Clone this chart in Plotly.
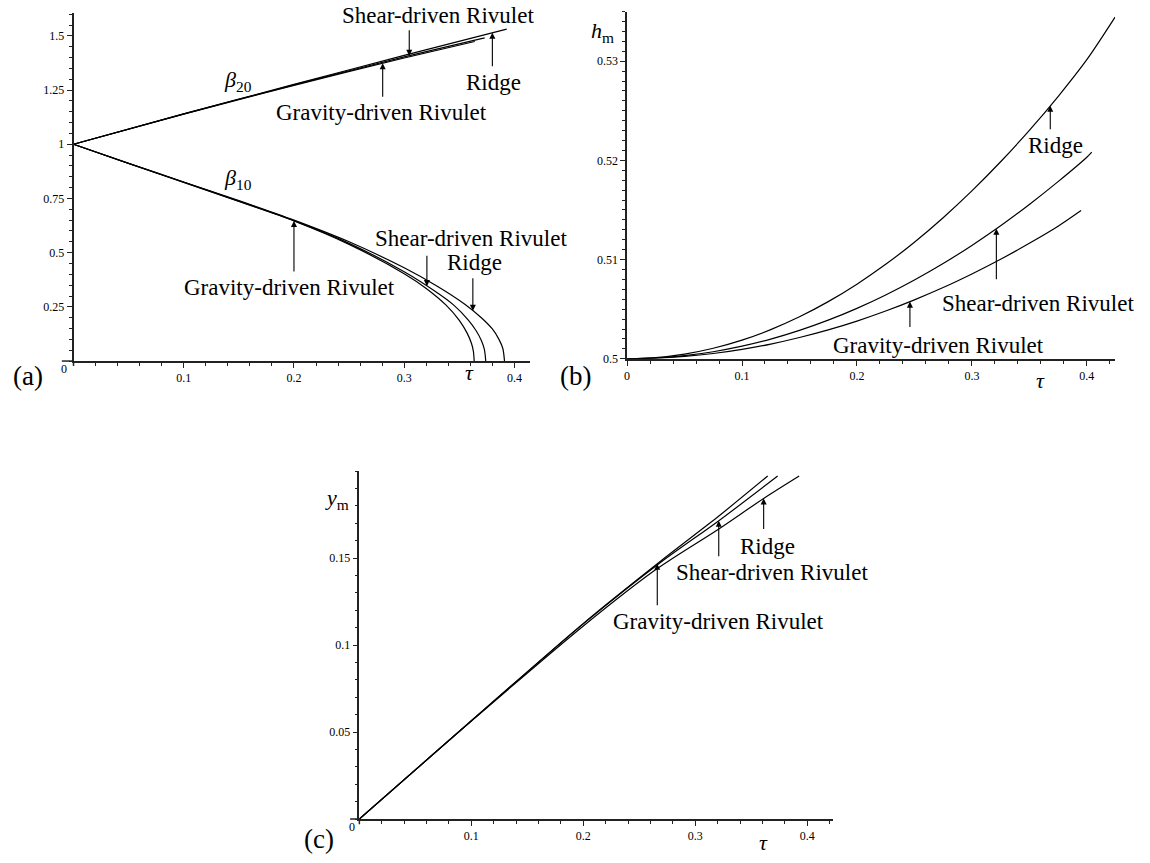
import numpy as np
import plotly.graph_objects as go

W, H = 1150, 863

# ---------------- data ----------------
# panel (a): beta_10 (lower branch)
tau_b10_ridge = [0, 0.05, 0.1, 0.15, 0.2, 0.25, 0.3, 0.33, 0.355, 0.37, 0.38, 0.386, 0.3895, 0.391]
b10_ridge = [1, 0.912, 0.826, 0.740, 0.650, 0.550, 0.430, 0.345, 0.262, 0.200, 0.148, 0.100, 0.058, 0.0]
tau_b10_shear = [0, 0.05, 0.1, 0.15, 0.2, 0.25, 0.3, 0.33, 0.345, 0.358, 0.365, 0.37, 0.3727, 0.374]
b10_shear = [1, 0.912, 0.825, 0.738, 0.648, 0.543, 0.412, 0.315, 0.258, 0.190, 0.142, 0.095, 0.055, 0.0]
tau_b10_grav = [0, 0.05, 0.1, 0.15, 0.2, 0.25, 0.3, 0.32, 0.338, 0.35, 0.357, 0.361, 0.3628, 0.3635]
b10_grav = [1, 0.911, 0.824, 0.736, 0.646, 0.538, 0.403, 0.335, 0.258, 0.188, 0.130, 0.082, 0.044, 0.0]

# panel (a): beta_20 (upper branch)
tau_b20_ridge = [0, 0.1, 0.2, 0.3, 0.393]
b20_ridge = [1, 1.14, 1.276, 1.41, 1.531]
tau_b20_shear = [0, 0.1, 0.2, 0.3, 0.373]
b20_shear = [1, 1.14, 1.274, 1.403, 1.491]
tau_b20_grav = [0, 0.1, 0.2, 0.3, 0.364]
b20_grav = [1, 1.139, 1.272, 1.398, 1.474]

# panel (b): h_m
tau_h_ridge = [0, 0.025, 0.05, 0.075, 0.1, 0.125, 0.15, 0.175, 0.2, 0.225, 0.25, 0.275, 0.3,
               0.325, 0.35, 0.375, 0.4, 0.4246]
h_ridge = [0.5, 0.50012, 0.50047, 0.50106, 0.50188, 0.50294, 0.50423, 0.50576, 0.50752, 0.50952,
           0.51175, 0.51422, 0.51692, 0.51986, 0.52303, 0.52644, 0.53015, 0.53444]
tau_h_shear = [0, 0.025, 0.05, 0.075, 0.1, 0.125, 0.15, 0.175, 0.2, 0.225, 0.25, 0.275, 0.3,
               0.325, 0.35, 0.375, 0.4, 0.4043]
h_shear = [0.5, 0.50008, 0.50032, 0.50071, 0.50127, 0.50198, 0.50286, 0.50389, 0.50508, 0.50643,
           0.50794, 0.5096, 0.51143, 0.51341, 0.51556, 0.51786, 0.52032, 0.52084]
tau_h_grav = [0, 0.025, 0.05, 0.075, 0.1, 0.125, 0.15, 0.175, 0.2, 0.225, 0.25, 0.275, 0.3,
              0.325, 0.35, 0.375, 0.395]
h_grav = [0.5, 0.50006, 0.50024, 0.50053, 0.50095, 0.50148, 0.50214, 0.50291, 0.5038, 0.50481,
          0.50594, 0.50718, 0.50855, 0.51003, 0.51164, 0.51336, 0.51494]

# panel (c): y_m
tau_y_ridge = [0, 0.1, 0.2, 0.266, 0.321, 0.361, 0.3927]
y_ridge = [0, 0.0563, 0.111, 0.144, 0.1668, 0.1843, 0.1972]
tau_y_shear = [0, 0.1, 0.2, 0.27, 0.321, 0.3735]
y_shear = [0, 0.0565, 0.1122, 0.148, 0.1715, 0.1972]
tau_y_grav = [0, 0.1, 0.2, 0.27, 0.321, 0.3646]
y_grav = [0, 0.0565, 0.1125, 0.1488, 0.1742, 0.1972]

# tick labels
a_yticks = [0.25, 0.5, 0.75, 1, 1.25, 1.5]
a_yticktext = ["0.25", "0.5", "0.75", "1", "1.25", "1.5"]
b_yticks = [0.5, 0.51, 0.52, 0.53]
b_yticktext = ["0.5", "0.51", "0.52", "0.53"]
c_yticks = [0.05, 0.1, 0.15]
c_yticktext = ["0.05", "0.1", "0.15"]
x_ticks_nozero = [0.1, 0.2, 0.3, 0.4]
x_ticktext_nozero = ["0.1", "0.2", "0.3", "0.4"]
b_xticks = [0, 0.1, 0.2, 0.3, 0.4]
b_xticktext = ["0", "0.1", "0.2", "0.3", "0.4"]

SERIF = "Liberation Serif"
AX = "#222222"
LABEL = 23


def px(x, y):
    return x / W, 1 - y / H


fig = go.Figure()

line = dict(color="black", width=1.2)


def add(x, y, xa, ya):
    fig.add_trace(go.Scatter(x=x, y=y, mode="lines", line=dict(line, shape="spline", smoothing=0.8),
                             xaxis=xa, yaxis=ya, showlegend=False, hoverinfo="skip"))


for t, v in [(tau_b10_ridge, b10_ridge), (tau_b10_shear, b10_shear), (tau_b10_grav, b10_grav),
             (tau_b20_ridge, b20_ridge), (tau_b20_shear, b20_shear), (tau_b20_grav, b20_grav)]:
    add(t, v, "x", "y")
for t, v in [(tau_h_ridge, h_ridge), (tau_h_shear, h_shear), (tau_h_grav, h_grav)]:
    add(t, v, "x2", "y2")
for t, v in [(tau_y_ridge, y_ridge), (tau_y_shear, y_shear), (tau_y_grav, y_grav)]:
    add(t, v, "x3", "y3")


def axis(domain, rng, anchor, tickvals, ticktext, minor_dtick, minor_tick0=0):
    return dict(domain=domain, range=rng, anchor=anchor, showline=True, linecolor=AX, linewidth=1.5,
                ticks="outside", ticklen=5, tickwidth=1, tickcolor=AX, showgrid=False, zeroline=False,
                tickmode="array", tickvals=tickvals, ticktext=ticktext,
                tickfont=dict(family=SERIF, size=12, color="black"),
                minor=dict(ticks="outside", ticklen=3, tickwidth=1, tickcolor=AX, dtick=minor_dtick,
                           tick0=minor_tick0, showgrid=False),
                fixedrange=True)


fig.update_layout(
    xaxis=axis([70.7 / W, 528 / W], [0, 0.4138], "y", x_ticks_nozero, x_ticktext_nozero, 0.02),
    yaxis=axis([1 - 364 / H, 1 - 13 / H], [0, 1.606], "x", a_yticks, a_yticktext, 0.05),
    xaxis2=axis([625.7 / W, 1115 / W], [0, 0.4246], "y2", b_xticks, b_xticktext, 0.02),
    yaxis2=axis([1 - 361.7 / H, 1 - 11.7 / H], [0.5, 0.535], "x2", b_yticks, b_yticktext, 0.001, 0.5),
    xaxis3=axis([357.3 / W, 831.7 / W], [0, 0.4225], "y3", x_ticks_nozero, x_ticktext_nozero, 0.02),
    yaxis3=axis([1 - 825.7 / H, 1 - 475 / H], [0, 0.2], "x3", c_yticks, c_yticktext, 0.01),
)

# axis stubs past the origin
shapes = []
for (x0, y0, x1, y1) in [(59, 364, 70.7, 364), (70.7, 364, 70.7, 369),
                         (348, 825.7, 357.3, 825.7), (357.3, 825.7, 357.3, 831)]:
    a0 = px(x0, y0)
    a1 = px(x1, y1)
    shapes.append(dict(type="line", xref="paper", yref="paper", x0=a0[0], y0=a0[1], x1=a1[0], y1=a1[1],
                       line=dict(color=AX, width=1.5)))
fig.update_layout(shapes=shapes)

ann = []


def text(s, x, y, size=LABEL, xanchor="center"):
    p = px(x, y)
    ann.append(dict(text=s, x=p[0], y=p[1], xref="paper", yref="paper", showarrow=False,
                    xanchor=xanchor, yanchor="middle", font=dict(family=SERIF, size=size, color="black")))


def arrow(xa, ya, t, tt, vv, ay):
    yv = float(np.interp(t, tt, vv))
    ann.append(dict(text="", x=t, y=yv, xref=xa, yref=ya, ax=0, ay=ay, axref="pixel", ayref="pixel",
                    showarrow=True, arrowhead=2, arrowsize=1.1, arrowwidth=1.1, arrowcolor="black",
                    standoff=0))


# panel (a)
text("(a)", 25, 379, 27)
text("0", 61, 372, 12)
text("<i>τ</i>", 468, 376, 22)
text("<i>β</i><sub>20</sub>", 236, 82, 22)
text("<i>β</i><sub>10</sub>", 236, 180, 22)
text("Shear-driven Rivulet", 436, 16)
text("Ridge", 492, 83)
text("Gravity-driven Rivulet", 379, 113)
text("Shear-driven Rivulet", 469, 240)
text("Ridge", 473, 265)
text("Gravity-driven Rivulet", 287, 290)
arrow("x", "y", 0.3046, tau_b20_shear, b20_shear, -27)
arrow("x", "y", 0.380, tau_b20_ridge, b20_ridge, 35)
arrow("x", "y", 0.2805, tau_b20_grav, b20_grav, 35)
arrow("x", "y", 0.3206, tau_b10_shear, b10_shear, -32)
arrow("x", "y", 0.3623, tau_b10_ridge, b10_ridge, -34)
arrow("x", "y", 0.200, tau_b10_grav, b10_grav, 52)

# panel (b)
text("(b)", 574, 379, 27)
text("<i>h</i><sub>m</sub>", 601, 32, 22)
text("<i>τ</i>", 1040, 384, 22)
text("Ridge", 1055, 147)
text("Shear-driven Rivulet", 1038, 306)
text("Gravity-driven Rivulet", 938, 348)
arrow("x2", "y2", 0.3682, tau_h_ridge, h_ridge, 25)
arrow("x2", "y2", 0.3213, tau_h_shear, h_shear, 52)
arrow("x2", "y2", 0.2461, tau_h_grav, h_grav, 27)

# panel (c)
text("(c)", 317, 846, 27)
text("0", 350, 834, 12)
text("<i>y</i><sub>m</sub>", 335, 503, 22)
text("<i>τ</i>", 762, 849, 22)
text("Ridge", 767, 551)
text("Shear-driven Rivulet", 771, 577)
text("Gravity-driven Rivulet", 717, 627)
arrow("x3", "y3", 0.361, tau_y_ridge, y_ridge, 32)
arrow("x3", "y3", 0.3209, tau_y_shear, y_shear, 37)
arrow("x3", "y3", 0.266, tau_y_grav, y_grav, 43)

fig.update_layout(annotations=ann, width=W, height=H, autosize=False,
                  margin=dict(l=0, r=0, t=0, b=0), paper_bgcolor="white", plot_bgcolor="white",
                  showlegend=False)

fig.write_html("out.html")
